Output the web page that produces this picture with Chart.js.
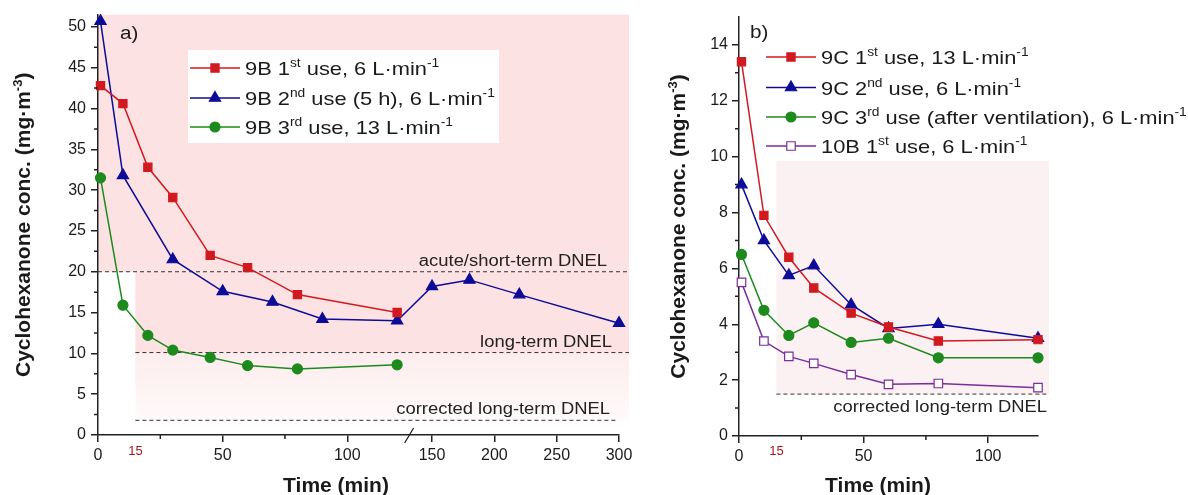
<!DOCTYPE html>
<html lang="en">
<head>
<meta charset="UTF-8">
<title>Cyclohexanone concentration</title>
<script src="https://cdn.jsdelivr.net/npm/chart.js"></script>
<style>
    body { margin: 0; background: #fff; }
    .wrap { position: relative; width: 1188px; height: 495px; }
    #chartA { position: absolute; left: 0; top: 0; }
    #chartB { position: absolute; left: 650px; top: 0; }
</style>
</head>
<body>
<div class="wrap">
    <canvas id="chartA" width="650" height="495"></canvas>
    <canvas id="chartB" width="538" height="495"></canvas>
</div>
<script>
// ---- panel a) data ----
const timeA = [1, 10, 20, 30, 45, 60, 80, 120];
const conc9B1 = [42.8, 40.6, 32.8, 29.1, 22.0, 20.5, 17.2, 15.0];
const time9B2 = [1, 10, 30, 50, 70, 90, 120, 150, 180, 220, 300];
const conc9B2 = [50.7, 31.8, 21.5, 17.6, 16.3, 14.2, 14.0, 18.2, 19.0, 17.2, 13.7];
const conc9B3 = [31.5, 15.9, 12.2, 10.4, 9.5, 8.5, 8.1, 8.6];
const labelsA = ['9B 1^{st} use, 6 L·min^{-1}', '9B 2^{nd} use (5 h), 6 L·min^{-1}', '9B 3^{rd} use, 13 L·min^{-1}'];
const xTicksA = [0, 50, 100, 150, 200, 250, 300];
const dnelA = [20, 10.1, 1.8];
const dnelLabelsA = ['acute/short-term DNEL', 'long-term DNEL', 'corrected long-term DNEL'];

// ---- panel b) data ----
const timeB = [1, 10, 20, 30, 45, 60, 80, 120];
const conc9C1 = [13.4, 7.9, 6.4, 5.3, 4.4, 3.9, 3.4, 3.45];
const conc9C2 = [9.0, 7.0, 5.75, 6.1, 4.7, 3.85, 4.0, 3.5];
const conc9C3 = [6.5, 4.5, 3.6, 4.05, 3.35, 3.5, 2.8, 2.8];
const conc10B1 = [5.5, 3.4, 2.85, 2.6, 2.2, 1.85, 1.88, 1.73];
const labelsB = ['9C 1^{st} use, 13 L·min^{-1}', '9C 2^{nd} use, 6 L·min^{-1}', '9C 3^{rd} use (after ventilation), 6 L·min^{-1}', '10B 1^{st} use, 6 L·min^{-1}'];
const xTicksB = [0, 50, 100];
const dnelB = 1.5;
const dnelLabelB = 'corrected long-term DNEL';

const shadeStart = 15;   // min, marked in red on both time axes

// broken time axis for panel a): 0-125 normal, then compressed from 132 on
const BREAK_AT = 125, RESUME_AT = 132, SQUEEZE = 0.5;
function squeeze(t) { return t <= BREAK_AT ? t : BREAK_AT + (t - RESUME_AT) * SQUEEZE; }
function unsqueeze(v) { return v <= BREAK_AT ? v : RESUME_AT + (v - BREAK_AT) / SQUEEZE; }
function same(t) { return t; }

const RED = '#d11a20', BLUE = '#0c0c98', GREEN = '#1c8a1c', PURPLE = '#7a2e9a';
const PINK = '#fde2e3';
const FONT = '"Liberation Sans", Arial, sans-serif';
const STRETCH = 1.15;
Chart.defaults.font.family = FONT;

// text with ^{...} superscripts
function parseRich(str) {
    const parts = [];
    const re = /\^\{([^}]*)\}/g;
    let last = 0, m;
    while ((m = re.exec(str))) {
        if (m.index > last) parts.push({ t: str.slice(last, m.index), sup: false });
        parts.push({ t: m[1], sup: true });
        last = re.lastIndex;
    }
    if (last < str.length) parts.push({ t: str.slice(last), sup: false });
    return parts;
}

function drawRich(ctx, str, x, y, o) {
    const weight = o.bold ? 'bold ' : '';
    const fMain = weight + o.size + 'px ' + FONT;
    const fSup = weight + Math.round(o.size * 0.62) + 'px ' + FONT;
    const parts = parseRich(str);
    ctx.save();
    ctx.textBaseline = 'alphabetic';
    ctx.textAlign = 'left';
    let w = 0;
    parts.forEach(p => { ctx.font = p.sup ? fSup : fMain; p.w = ctx.measureText(p.t).width; w += p.w; });
    ctx.translate(x, y);
    if (o.rotate) ctx.rotate(o.rotate);
    ctx.scale(o.stretch || 1, 1);
    let cx = o.align === 'right' ? -w : o.align === 'center' ? -w / 2 : 0;
    ctx.fillStyle = o.color || '#1a1a1a';
    parts.forEach(p => {
        ctx.font = p.sup ? fSup : fMain;
        ctx.fillText(p.t, cx, p.sup ? -o.size * 0.4 : 0);
        cx += p.w;
    });
    ctx.restore();
}

function drawMarker(ctx, style, x, y, r, fill, stroke) {
    ctx.save();
    ctx.fillStyle = fill;
    ctx.strokeStyle = stroke;
    ctx.lineWidth = 1.2;
    ctx.beginPath();
    if (style === 'rect') {
        const s = r * Math.SQRT1_2;
        ctx.rect(x - s, y - s, 2 * s, 2 * s);
    } else if (style === 'triangle') {
        ctx.moveTo(x, y - r);
        ctx.lineTo(x + r * 0.866, y + r * 0.5);
        ctx.lineTo(x - r * 0.866, y + r * 0.5);
        ctx.closePath();
    } else {
        ctx.arc(x, y, r, 0, 2 * Math.PI);
    }
    ctx.fill();
    ctx.stroke();
    ctx.restore();
}

function drawLegend(chart, labels, x0, rows) {
    const ctx = chart.ctx;
    chart.data.datasets.forEach((ds, i) => {
        const y = rows[i];
        ctx.save();
        ctx.strokeStyle = ds.borderColor;
        ctx.lineWidth = ds.borderWidth;
        ctx.beginPath();
        ctx.moveTo(x0, y);
        ctx.lineTo(x0 + 50, y);
        ctx.stroke();
        ctx.restore();
        drawMarker(ctx, ds.pointStyle, x0 + 25, y, ds.pointRadius, ds.pointBackgroundColor, ds.pointBorderColor);
        drawRich(ctx, labels[i], x0 + 55, y + 7, { size: 19, stretch: STRETCH });
    });
}

function minorTicks(chart, xs, ys, xMap) {
    const { ctx, chartArea: ca, scales: { x, y } } = chart;
    ctx.save();
    ctx.strokeStyle = '#222';
    ctx.lineWidth = 1.5;
    ctx.beginPath();
    xs.forEach(v => {
        const px = x.getPixelForValue(xMap(v));
        ctx.moveTo(px, ca.bottom);
        ctx.lineTo(px, ca.bottom + 4);
    });
    ys.forEach(v => {
        const py = y.getPixelForValue(v);
        ctx.moveTo(ca.left, py);
        ctx.lineTo(ca.left - 4, py);
    });
    ctx.stroke();
    ctx.restore();
}

function dashed(ctx, x1, x2, y) {
    ctx.save();
    ctx.strokeStyle = '#333';
    ctx.lineWidth = 1;
    ctx.setLineDash([4, 3]);
    ctx.beginPath();
    ctx.moveTo(x1, y);
    ctx.lineTo(x2, y);
    ctx.stroke();
    ctx.restore();
}

function axisTitles(chart, xCenter, yTitleX, xMap) {
    const { ctx, chartArea: ca } = chart;
    drawRich(ctx, 'Time (min)', xCenter, 492, { size: 21, bold: true, align: 'center' });
    drawRich(ctx, 'Cyclohexanone conc. (mg·m^{-3})', yTitleX, (ca.top + ca.bottom) / 2,
        { size: 21, bold: true, align: 'center', rotate: -Math.PI / 2 });
    // the red 15 under the time axis
    const x15 = chart.scales.x.getPixelForValue(xMap(shadeStart));
    drawRich(ctx, String(shadeStart), x15, 455, { size: 13, align: 'center', color: '#a8171c' });
}

function series(label, xs, ys, color, style, radius, fill, xMap) {
    return {
        label: label,
        data: xs.map((t, i) => ({ x: xMap ? xMap(t) : t, y: ys[i] })),
        borderColor: color,
        borderWidth: 1.5,
        pointStyle: style,
        pointRadius: radius,
        pointHoverRadius: radius,
        pointBackgroundColor: fill || color,
        pointBorderColor: color,
        pointBorderWidth: 1.2,
        tension: 0,
        clip: false
    };
}

function axisOpts(extra) {
    return Object.assign({
        type: 'linear',
        grid: { drawOnChartArea: false, tickLength: 7, color: '#222', lineWidth: 1.5 },
        border: { color: '#222', width: 1.5 },
        ticks: { color: '#1a1a1a', font: { size: 16 }, padding: 4, autoSkip: false, maxRotation: 0, includeBounds: false }
    }, extra);
}

// ---------------- panel a) ----------------
const decorA = {
    id: 'decorA',
    beforeDraw(chart) {
        const { ctx, chartArea: ca, scales: { x, y } } = chart;
        const right = ca.right + 10;
        const x15 = x.getPixelForValue(squeeze(shadeStart));
        const y20 = y.getPixelForValue(dnelA[0]);
        const y10 = y.getPixelForValue(dnelA[1]);
        const y2 = y.getPixelForValue(dnelA[2]);
        ctx.save();
        ctx.fillStyle = PINK;
        ctx.fillRect(ca.left, ca.top, right - ca.left, y20 - ca.top);
        ctx.fillRect(x15, y20, right - x15, y10 - y20);
        const g = ctx.createLinearGradient(0, y10, 0, y2);
        g.addColorStop(0, '#fdeced');
        g.addColorStop(1, '#fffafa');
        ctx.fillStyle = g;
        ctx.fillRect(x15, y10, right - x15, y2 - y10);
        ctx.restore();
    },
    beforeDatasetsDraw(chart) {
        const { ctx, chartArea: ca, scales: { x, y } } = chart;
        const x15 = x.getPixelForValue(squeeze(shadeStart));
        const starts = [ca.left, x15, x15];
        const ends = [ca.right + 10, ca.right + 10, ca.right - 2];
        const labelRight = [ca.right - 12, ca.right - 7, ca.right - 9];
        dnelA.forEach((v, i) => {
            const py = y.getPixelForValue(v);
            dashed(ctx, starts[i], ends[i], py);
            drawRich(ctx, dnelLabelsA[i], labelRight[i], py - 6, { size: 16, align: 'right', stretch: STRETCH, color: '#222' });
        });
    },
    afterDraw(chart) {
        const { ctx, chartArea: ca, scales: { x } } = chart;
        minorTicks(chart, [25, 75], [2.5, 7.5, 12.5, 17.5, 22.5, 27.5, 32.5, 37.5, 42.5, 47.5], squeeze);
        // axis break mark
        const bx = x.getPixelForValue(BREAK_AT);
        ctx.save();
        ctx.strokeStyle = '#222';
        ctx.lineWidth = 1.3;
        ctx.beginPath();
        ctx.moveTo(bx - 5, ca.bottom + 8);
        ctx.lineTo(bx + 4, ca.bottom - 7);
        ctx.stroke();
        ctx.restore();
        // legend box
        ctx.save();
        ctx.fillStyle = '#fff';
        ctx.fillRect(188, 50, 311, 93);
        ctx.restore();
        drawLegend(chart, labelsA, 190, [68, 98, 127]);
        drawRich(ctx, 'a)', 120, 39, { size: 18, stretch: STRETCH });
        axisTitles(chart, 336, 30, squeeze);
    }
};

const chartA = new Chart(document.getElementById('chartA'), {
    type: 'line',
    data: {
        datasets: [
            series(labelsA[0], timeA, conc9B1, RED, 'rect', 5.8, null, squeeze),
            series(labelsA[1], time9B2, conc9B2, BLUE, 'triangle', 6.5, null, squeeze),
            series(labelsA[2], timeA, conc9B3, GREEN, 'circle', 5, null, squeeze)
        ]
    },
    options: {
        responsive: false,
        animation: false,
        layout: { padding: { left: 0, top: 13, right: 31, bottom: 0 } },
        plugins: { legend: { display: false }, tooltip: { enabled: false } },
        scales: {
            x: axisOpts({
                min: 0,
                max: squeeze(300),
                afterBuildTicks: s => { s.ticks = xTicksA.map(v => ({ value: squeeze(v) })); },
                afterFit: s => { s.height = 60; },
                ticks: { color: '#1a1a1a', font: { size: 16 }, padding: 4, autoSkip: false, maxRotation: 0,
                    callback: v => Math.round(unsqueeze(v)) }
            }),
            y: axisOpts({
                min: 0,
                max: 51.5,
                afterFit: s => { s.width = 98; },
                ticks: { color: '#1a1a1a', font: { size: 16 }, padding: 5, stepSize: 5, includeBounds: false }
            })
        }
    },
    plugins: [decorA]
});

// ---------------- panel b) ----------------
const decorB = {
    id: 'decorB',
    beforeDraw(chart) {
        const { ctx, chartArea: ca, scales: { x, y } } = chart;
        const x15 = x.getPixelForValue(shadeStart);
        const yTop = y.getPixelForValue(9.85);
        const yLow = y.getPixelForValue(dnelB);
        ctx.save();
        ctx.fillStyle = '#fcf1f2';
        ctx.fillRect(x15, yTop, ca.right + 11 - x15, yLow - yTop);
        ctx.restore();
    },
    beforeDatasetsDraw(chart) {
        const { ctx, chartArea: ca, scales: { x, y } } = chart;
        const py = y.getPixelForValue(dnelB);
        dashed(ctx, x.getPixelForValue(shadeStart), ca.right + 11, py);
        drawRich(ctx, dnelLabelB, ca.right + 9, py + 18, { size: 16, align: 'right', stretch: STRETCH, color: '#222' });
    },
    afterDraw(chart) {
        const ctx = chart.ctx;
        minorTicks(chart, [25, 75], [1, 3, 5, 7, 9, 11, 13], same);
        drawLegend(chart, labelsB, 116, [57, 87.5, 117, 146]);
        drawRich(ctx, 'b)', 100, 38, { size: 18, stretch: STRETCH });
        axisTitles(chart, 228, 35, same);
    }
};

const chartB = new Chart(document.getElementById('chartB'), {
    type: 'line',
    data: {
        datasets: [
            series(labelsB[0], timeB, conc9C1, RED, 'rect', 5.8),
            series(labelsB[1], timeB, conc9C2, BLUE, 'triangle', 6.5),
            series(labelsB[2], timeB, conc9C3, GREEN, 'circle', 5),
            series(labelsB[3], timeB, conc10B1, PURPLE, 'rect', 6, '#ffffff')
        ]
    },
    options: {
        responsive: false,
        animation: false,
        layout: { padding: { left: 0, top: 17, right: 150, bottom: 0 } },
        plugins: { legend: { display: false }, tooltip: { enabled: false } },
        scales: {
            x: axisOpts({
                min: 0,
                max: 120,
                afterBuildTicks: s => { s.ticks = xTicksB.map(v => ({ value: v })); },
                afterFit: s => { s.height = 59; }
            }),
            y: axisOpts({
                min: 0,
                max: 15,
                afterFit: s => { s.width = 89; },
                ticks: { color: '#1a1a1a', font: { size: 16 }, padding: 4, stepSize: 2, includeBounds: false }
            })
        }
    },
    plugins: [decorB]
});
</script>
</body>
</html>
